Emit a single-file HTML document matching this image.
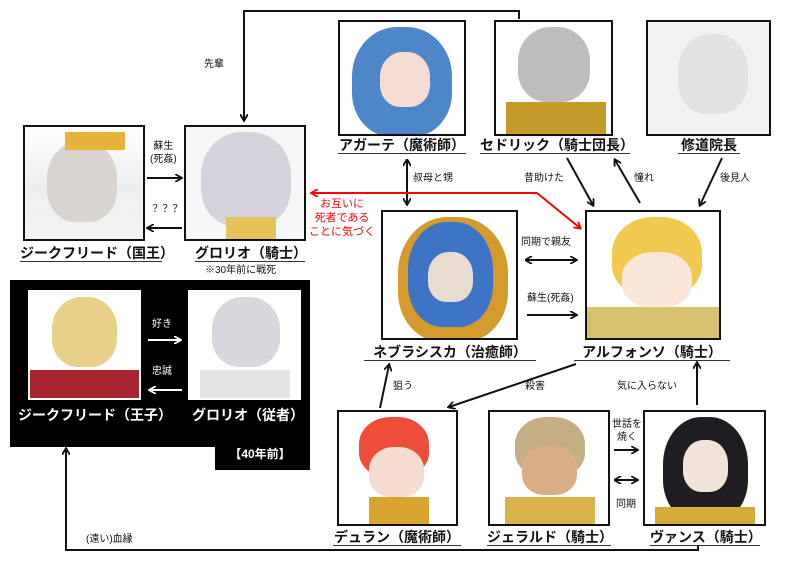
<!DOCTYPE html>
<html><head><meta charset="utf-8"><style>
body{margin:0;width:800px;height:565px;background:#fff;position:relative;overflow:hidden;font-family:"Liberation Sans","Noto Sans CJK JP",sans-serif;}
.b{position:absolute;border:2px solid #111;box-sizing:border-box;overflow:hidden;background:#fff}
.l{position:absolute;font-size:14px;font-weight:bold;color:#111;border-bottom:1.5px solid #333;white-space:nowrap;line-height:16px;text-align:center}
.t{position:absolute;font-size:10px;color:#111;white-space:nowrap;line-height:13px;text-align:center}
.r{color:#f00;font-size:11px;line-height:14px}
.w{color:#fff;border-bottom:none}
.face{position:absolute;border-radius:45% 45% 40% 40%}
</style></head><body>
<div style="position:absolute;left:10px;top:280px;width:300px;height:167px;background:#000"></div>
<div style="position:absolute;left:215px;top:440px;width:95px;height:30px;background:#000"></div>

<svg width="800" height="565" style="position:absolute;left:0;top:0">
<defs>
<marker id="a" markerWidth="8" markerHeight="8" refX="6" refY="4" orient="auto" markerUnits="userSpaceOnUse"><path d="M0,0 L7,4 L0,8" fill="none" stroke="#111" stroke-width="1.8"/></marker>
<marker id="ar" markerWidth="8" markerHeight="8" refX="6" refY="4" orient="auto" markerUnits="userSpaceOnUse"><path d="M0,0 L7,4 L0,8" fill="none" stroke="#f00" stroke-width="1.8"/></marker>
<marker id="aw" markerWidth="8" markerHeight="8" refX="6" refY="4" orient="auto" markerUnits="userSpaceOnUse"><path d="M0,0 L7,4 L0,8" fill="none" stroke="#fff" stroke-width="1.8"/></marker>
<marker id="s" markerWidth="8" markerHeight="8" refX="1" refY="4" orient="auto" markerUnits="userSpaceOnUse"><path d="M7,0 L0,4 L7,8" fill="none" stroke="#111" stroke-width="1.8"/></marker>
</defs>
<g stroke="#111" stroke-width="2" fill="none">
<path d="M519,19 V11 H244 V120" marker-end="url(#a)"/>
<path d="M147,178 H181" marker-end="url(#a)"/>
<path d="M182,228 H148" marker-end="url(#a)"/>
<path d="M407,160 V204" marker-start="url(#s)" marker-end="url(#a)"/>
<path d="M567,158 L593,205" marker-end="url(#a)"/>
<path d="M640,203 L615,160" marker-end="url(#a)"/>
<path d="M722,158 L700,205" marker-end="url(#a)"/>
<path d="M526,260 H576" marker-start="url(#s)" marker-end="url(#a)"/>
<path d="M527,315 H576" marker-end="url(#a)"/>
<path d="M576,364 L449,407" marker-end="url(#a)"/>
<path d="M380,408 L389,365" marker-end="url(#a)"/>
<path d="M697,405 V363" marker-end="url(#a)"/>
<path d="M614,450 H637" marker-end="url(#a)"/>
<path d="M615,480 H637" marker-start="url(#s)" marker-end="url(#a)"/>
<path d="M698,545 V550 H66 V449" marker-end="url(#a)"/>
</g>
<path d="M537,193 H312" stroke="#f00" stroke-width="2" fill="none" marker-end="url(#ar)"/>
<path d="M537,193 L580,228" stroke="#f00" stroke-width="2" fill="none" marker-end="url(#ar)"/>
<g stroke="#fff" stroke-width="2" fill="none">
<path d="M148,340 H180" marker-end="url(#aw)"/>
<path d="M182,390 H150" marker-end="url(#aw)"/>
</g>
</svg>

<div class="b" style="left:23px;top:125px;width:122px;height:116px;background:linear-gradient(#fff 0%,#eee 55%,#f4f4f4 100%)"><div class="face" style="left:22px;top:15px;width:70px;height:80px;background:#d8d4cf"></div><div style="position:absolute;left:40px;top:5px;width:60px;height:18px;background:#e6b43a"></div></div>
<div class="b" style="left:184px;top:125px;width:122px;height:116px;background:#f7f7f7"><div class="face" style="left:15px;top:5px;width:90px;height:95px;background:#d6d3dc"></div><div style="position:absolute;left:40px;top:90px;width:50px;height:22px;background:#e7c25a"></div></div>
<div class="b" style="left:338px;top:20px;width:128px;height:116px;background:#fff"><div class="face" style="left:12px;top:5px;width:100px;height:110px;background:#4d86c9"></div><div class="face" style="left:40px;top:30px;width:50px;height:55px;background:#f4ddd3"></div></div>
<div class="b" style="left:494px;top:20px;width:119px;height:116px;background:#fff"><div class="face" style="left:22px;top:5px;width:72px;height:75px;background:#bdbdbd"></div><div style="position:absolute;left:10px;top:80px;width:100px;height:36px;background:#c49a2c"></div></div>
<div class="b" style="left:646px;top:20px;width:125px;height:116px;background:#f1f1f1"><div class="face" style="left:30px;top:12px;width:70px;height:80px;background:#e2e2e2"></div></div>
<div class="b" style="left:381px;top:210px;width:137px;height:130px;background:#fff"><div class="face" style="left:15px;top:5px;width:110px;height:125px;background:#d49a2c"></div><div class="face" style="left:25px;top:10px;width:85px;height:105px;background:#3d74c6"></div><div class="face" style="left:45px;top:40px;width:45px;height:50px;background:#e8dcd0"></div></div>
<div class="b" style="left:585px;top:210px;width:136px;height:130px;background:#fff"><div class="face" style="left:25px;top:5px;width:90px;height:80px;background:#f2c94f"></div><div class="face" style="left:35px;top:40px;width:70px;height:55px;background:#fbe7d8"></div><div style="position:absolute;left:0;top:95px;width:136px;height:35px;background:#d7c26f"></div></div>
<div class="b" style="left:28px;top:290px;width:113px;height:110px;border-color:#fff;background:#fff"><div class="face" style="left:22px;top:5px;width:65px;height:70px;background:#e8cf8a"></div><div style="position:absolute;left:0;top:78px;width:113px;height:32px;background:#a8232b"></div></div>
<div class="b" style="left:188px;top:290px;width:113px;height:110px;border-color:#fff;background:#fff"><div class="face" style="left:22px;top:5px;width:68px;height:70px;background:#d9d6de"></div><div style="position:absolute;left:10px;top:78px;width:90px;height:32px;background:#e4e4e4"></div></div>
<div class="b" style="left:337px;top:410px;width:121px;height:116px;background:#fff"><div class="face" style="left:20px;top:5px;width:70px;height:60px;background:#ee4d3a"></div><div class="face" style="left:30px;top:35px;width:55px;height:50px;background:#f5dcd0"></div><div style="position:absolute;left:30px;top:85px;width:60px;height:30px;background:#d9a52f"></div></div>
<div class="b" style="left:488px;top:410px;width:122px;height:116px;background:#fff"><div class="face" style="left:25px;top:5px;width:70px;height:60px;background:#c6ae84"></div><div class="face" style="left:32px;top:33px;width:55px;height:50px;background:#d9ae86"></div><div style="position:absolute;left:15px;top:85px;width:90px;height:30px;background:#d9b34a"></div></div>
<div class="b" style="left:643px;top:410px;width:123px;height:116px;background:#fff"><div class="face" style="left:18px;top:5px;width:85px;height:105px;background:#1f1c22"></div><div class="face" style="left:38px;top:28px;width:45px;height:52px;background:#f2e3d8"></div><div style="position:absolute;left:10px;top:95px;width:100px;height:20px;background:#d4ab3a"></div></div>

<div class="l" style="left:20px;top:245px;width:142px">ジークフリード（国王）</div>
<div class="l" style="left:195px;top:245px;width:110px">グロリオ（騎士）</div>
<div class="t" style="left:205px;top:264px;font-size:10px">※30年前に戦死</div>
<div class="l" style="left:338px;top:137px;width:128px">アガーテ（魔術師）</div>
<div class="l" style="left:480px;top:137px;width:150px">セドリック（騎士団長）</div>
<div class="l" style="left:678px;top:137px;width:62px">修道院長</div>
<div class="l" style="left:364px;top:344px;width:172px">ネブラシスカ（治癒師）</div>
<div class="l" style="left:574px;top:344px;width:156px">アルフォンソ（騎士）</div>
<div class="l w" style="left:18px;top:407px;width:150px">ジークフリード（王子）</div>
<div class="l w" style="left:192px;top:407px;width:112px">グロリオ（従者）</div>
<div class="l w" style="left:220px;top:446px;width:80px;font-size:12px">【40年前】</div>
<div class="l" style="left:333px;top:529px;width:128px">デュラン（魔術師）</div>
<div class="l" style="left:487px;top:529px;width:124px">ジェラルド（騎士）</div>
<div class="l" style="left:650px;top:529px;width:110px">ヴァンス（騎士）</div>

<div class="t" style="left:204px;top:58px">先輩</div>
<div class="t" style="left:150px;top:140px">蘇生<br>(死姦)</div>
<div class="t" style="left:150px;top:203px">？？？</div>
<div class="t r" style="left:309px;top:197px">お互いに<br>死者である<br>ことに気づく</div>
<div class="t" style="left:413px;top:172px">叔母と甥</div>
<div class="t" style="left:524px;top:172px">昔助けた</div>
<div class="t" style="left:634px;top:172px">憧れ</div>
<div class="t" style="left:720px;top:172px">後見人</div>
<div class="t" style="left:521px;top:236px">同期で親友</div>
<div class="t" style="left:527px;top:292px">蘇生(死姦)</div>
<div class="t" style="left:393px;top:380px">狙う</div>
<div class="t" style="left:525px;top:380px">殺害</div>
<div class="t" style="left:617px;top:380px">気に入らない</div>
<div class="t" style="left:612px;top:418px">世話を<br>焼く</div>
<div class="t" style="left:616px;top:498px">同期</div>
<div class="t" style="left:86px;top:533px">(遠い)血縁</div>
<div class="t" style="left:152px;top:318px;color:#fff">好き</div>
<div class="t" style="left:152px;top:365px;color:#fff">忠誠</div>
</body></html>
